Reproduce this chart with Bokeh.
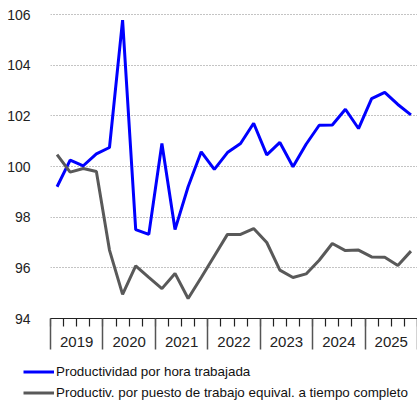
from bokeh.plotting import figure
from bokeh.models import (Range1d, FixedTicker, LinearAxis, Legend, LegendItem)
from bokeh.embed import file_html
from bokeh.resources import INLINE

years = ["2019", "2020", "2021", "2022", "2023", "2024", "2025"]
quarters_per_year = 4

prod_hora = [99.2, 100.25, 100.03, 100.5, 100.75, 105.78, 97.51, 97.32,
             100.91, 97.51, 99.2, 100.58, 99.89, 100.55, 100.91, 101.71,
             100.46, 100.95, 99.99, 100.88, 101.63, 101.64, 102.26, 101.5,
             102.68, 102.93, 102.45, 102.04]
prod_puesto = [100.47, 99.78, 99.92, 99.8, 96.7, 94.95, 96.08, 95.62,
               95.18, 95.78, 94.79, 95.62, 96.47, 97.32, 97.32, 97.55,
               97.0, 95.91, 95.62, 95.76, 96.3, 96.96, 96.68, 96.7,
               96.43, 96.42, 96.09, 96.66]
y_ticks = [94, 96, 98, 100, 102, 104, 106]
label_hora = "Productividad por hora trabajada"
label_puesto = "Productiv. por puesto de trabajo equival. a tiempo completo"

n = len(prod_hora)
xs = [i + 0.5 for i in range(n)]

FONT = "Liberation Sans"
BLUE = "#0000FF"
GREY = "#595959"
AX_H = 31  # height of the labelled x axis panel

p = figure(width=417, height=360,
           min_border_left=50, min_border_right=0, min_border_top=8,
           min_border_bottom=42,
           x_range=Range1d(0, n), y_range=Range1d(94, 94 + 310 / 25.33),
           output_backend="svg", toolbar_location=None)
p.outline_line_color = None
p.background_fill_color = "white"
p.border_fill_color = "white"

# y axis
p.yaxis.ticker = FixedTicker(ticks=y_ticks)
p.yaxis.axis_line_color = None
p.yaxis.major_tick_line_color = None
p.yaxis.minor_tick_line_color = None
p.yaxis.major_label_standoff = 14
p.yaxis.major_label_text_font = FONT
p.yaxis.major_label_text_font_size = "14px"
p.yaxis.major_label_text_color = "#222222"

# x axis A: axis line, quarter ticks (minor), year labels at year centres
year_bounds = [i * quarters_per_year for i in range(len(years) + 1)]
year_centres = [i * quarters_per_year + quarters_per_year // 2 for i in range(len(years))]
ax = p.xaxis[0]
ax.ticker = FixedTicker(ticks=year_centres, minor_ticks=list(range(n + 1)))
ax.major_label_overrides = {c: y for c, y in zip(year_centres, years)}
ax.axis_line_color = "#222222"
ax.axis_line_width = 1.2
ax.major_tick_line_color = None
ax.major_tick_out = 0
ax.major_tick_in = 0
ax.minor_tick_line_color = "#222222"
ax.minor_tick_line_width = 1.2
ax.minor_tick_out = 8
ax.minor_tick_in = 0
ax.major_label_standoff = 10
ax.major_label_text_font = FONT
ax.major_label_text_font_size = "15px"
ax.major_label_text_color = "#222222"

# x axis B: year separators reaching up to the axis line
sep = LinearAxis(ticker=FixedTicker(ticks=year_bounds, minor_ticks=[]),
                 axis_line_color=None,
                 major_tick_line_color="#555555", major_tick_line_width=1.5,
                 major_tick_in=AX_H, major_tick_out=0,
                 minor_tick_line_color=None,
                 major_label_text_font_size="0px", major_label_standoff=0,
                 major_label_overrides={b: "" for b in year_bounds})
p.add_layout(sep, "below")

# grid
p.xgrid.grid_line_color = None
p.ygrid.ticker = FixedTicker(ticks=y_ticks[1:])
p.ygrid.grid_line_color = "#888888"
p.ygrid.grid_line_dash = "1 2"
p.ygrid.grid_line_width = 1

# lines
p.line(xs, prod_hora, line_color=BLUE, line_width=3)
p.line(xs, prod_puesto, line_color=GREY, line_width=3)

# legend in its own strip below the chart (series drawn out of view)
pl = figure(width=417, height=44, min_border=0, x_axis_type=None,
            y_axis_type=None, x_range=Range1d(-100, -99), y_range=Range1d(0, 1),
            output_backend="svg", toolbar_location=None)
pl.outline_line_color = None
pl.grid.grid_line_color = None
l1 = pl.line(xs, prod_hora, line_color=BLUE, line_width=3)
l2 = pl.line(xs, prod_puesto, line_color=GREY, line_width=3)
legend = Legend(items=[LegendItem(label=label_hora, renderers=[l1]),
                       LegendItem(label=label_puesto, renderers=[l2])],
                location=(23, 1), orientation="vertical",
                padding=0, margin=0, spacing=0,
                glyph_width=31, glyph_height=21, label_height=21,
                label_standoff=2, label_text_font=FONT,
                label_text_font_size="13.4px", label_text_color="#111111",
                border_line_color=None, background_fill_alpha=0)
pl.add_layout(legend, "center")

open("out.html", "w").write(file_html([p, pl], INLINE))
